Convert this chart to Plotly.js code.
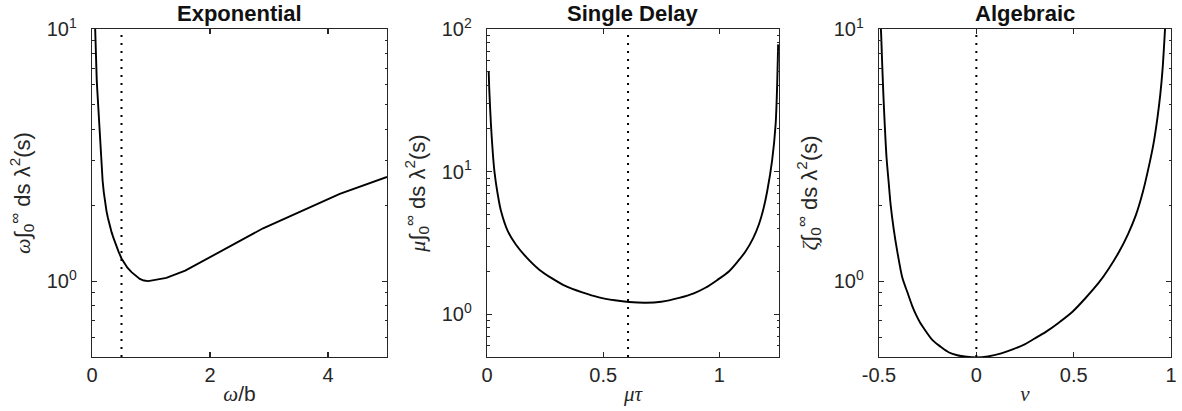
<!DOCTYPE html>
<html>
<head>
<meta charset="utf-8">
<script src="https://cdn.plot.ly/plotly-3.0.1.min.js"></script>
<style>html,body{margin:0;padding:0;background:#fff;}#chart{width:1182px;height:411px;}</style>
</head>
<body>
<div id="chart"></div>
<script>
// ---- data ----
const panelTitles = ["Exponential", "Single Delay", "Algebraic"];

const expX = [0.04, 0.05, 0.06, 0.07, 0.08, 0.09, 0.1, 0.107, 0.12, 0.13, 0.14, 0.152, 0.165, 0.18, 0.2, 0.22, 0.245, 0.27, 0.3, 0.333, 0.365, 0.4, 0.45, 0.5, 0.55, 0.6, 0.67, 0.74, 0.81, 0.88, 0.954, 1.26, 1.58, 2.9, 4.2, 5.0];
const expY = [12.8, 10.0, 8.4, 7.2, 6.3, 5.7, 5.2, 4.85, 4.2, 3.8, 3.45, 3.1, 2.8, 2.5, 2.25, 2.05, 1.9, 1.78, 1.66, 1.56, 1.48, 1.40, 1.31, 1.23, 1.175, 1.13, 1.085, 1.05, 1.02, 1.005, 1.0, 1.03, 1.10, 1.62, 2.22, 2.59];

const sdX = [0.0073, 0.01, 0.017, 0.025, 0.032, 0.045, 0.06, 0.09, 0.124, 0.17, 0.225, 0.28, 0.339, 0.41, 0.482, 0.55, 0.611, 0.684, 0.75, 0.827, 0.89, 0.94, 0.99, 1.042, 1.08, 1.113, 1.145, 1.17, 1.19, 1.206, 1.227, 1.242, 1.249, 1.253];
const sdY = [50, 37, 21.4, 13.5, 10, 7.1, 5.3, 3.8, 3.08, 2.5, 2.05, 1.78, 1.57, 1.42, 1.31, 1.25, 1.215, 1.20, 1.22, 1.30, 1.40, 1.53, 1.73, 2.0, 2.35, 2.76, 3.4, 4.25, 5.5, 7.3, 12, 21.4, 42, 78];

const alX = [-0.497, -0.49, -0.485, -0.478, -0.47, -0.461, -0.45, -0.44, -0.425, -0.406, -0.38, -0.355, -0.33, -0.31, -0.29, -0.269, -0.225, -0.183, -0.14, -0.098, -0.05, 0, 0.06, 0.128, 0.19, 0.248, 0.3, 0.357, 0.42, 0.494, 0.56, 0.631, 0.68, 0.734, 0.78, 0.82, 0.855, 0.888, 0.91, 0.93, 0.945, 0.957, 0.969, 0.975];
const alY = [11.5, 9.9, 7.8, 5.6, 4.1, 3.07, 2.45, 2.0, 1.62, 1.31, 1.03, 0.907, 0.80, 0.736, 0.687, 0.649, 0.583, 0.549, 0.521, 0.508, 0.501, 0.498, 0.503, 0.517, 0.537, 0.561, 0.592, 0.629, 0.681, 0.756, 0.855, 0.99, 1.12, 1.31, 1.54, 1.83, 2.25, 2.89, 3.5, 4.42, 5.5, 6.98, 9.9, 12];

const refLines = [0.5, 0.607, 0];          // dotted vertical markers
const xRanges = [[0, 5], [0, 1.2566], [-0.5, 1]];
const yRanges = [[0.5, 10], [0.5, 100], [0.5, 10]];
const xTickVals = [[0, 2, 4], [0, 0.5, 1], [-0.5, 0, 0.5, 1]];
const xTickText = [["0", "2", "4"], ["0", "0.5", "1"], ["-0.5", "0", "0.5", "1"]];
const yTickVals = [[1, 10], [1, 10, 100], [1, 10]];
const yTickText = [["10<sup>0</sup>", "10<sup>1</sup>"], ["10<sup>0</sup>", "10<sup>1</sup>", "10<sup>2</sup>"], ["10<sup>0</sup>", "10<sup>1</sup>"]];
const yMinor = [
  [0.5, 0.6, 0.7, 0.8, 0.9, 2, 3, 4, 5, 6, 7, 8, 9],
  [0.5, 0.6, 0.7, 0.8, 0.9, 2, 3, 4, 5, 6, 7, 8, 9, 20, 30, 40, 50, 60, 70, 80, 90],
  [0.5, 0.6, 0.7, 0.8, 0.9, 2, 3, 4, 5, 6, 7, 8, 9]
];
const lineShapes = ["linear", "spline", "spline"];
const serif = (s) => '<span style="font-family:\'Liberation Serif\',serif"><i>' + s + '</i></span>';
const xTitles = [serif("ω") + "/b", serif("μτ"), serif("ν")];
const yPrefix = ["ω", "μ", "ζ"];
const yTitles = yPrefix.map(p => serif(p) + "∫<sub>0</sub><sup>∞</sup> ds λ<sup>2</sup>(s)");

const xs = [expX, sdX, alX];
const ys = [expY, sdY, alY];

// ---- build figure ----
const axisColor = "#262626";
const fam = "'Liberation Sans', Arial, sans-serif";
const tickFont = {family: fam, size: 20, color: axisColor};
const W = 1079;
const domains = [[0, 295 / W], [395 / W, 687 / W], [787 / W, 1]];

const traces = [];
const layout = {
  width: 1182, height: 411,
  margin: {l: 92, r: 11, t: 29, b: 54},
  paper_bgcolor: "#fff", plot_bgcolor: "#fff",
  showlegend: false,
  font: tickFont,
  shapes: [], annotations: []
};

for (let i = 0; i < 3; i++) {
  const sfx = i === 0 ? "" : String(i + 1);
  traces.push({
    x: xs[i], y: ys[i], type: "scatter", mode: "lines",
    line: {color: "#000", width: 1.9, shape: lineShapes[i], smoothing: 0.8},
    xaxis: "x" + sfx, yaxis: "y" + sfx, hoverinfo: "skip"
  });
  layout["xaxis" + sfx] = {
    domain: domains[i], anchor: "y" + sfx,
    range: xRanges[i], showgrid: false, zeroline: false,
    showline: true, mirror: "ticks", linecolor: axisColor, linewidth: 1.3,
    ticks: "inside", ticklen: 5, tickwidth: 1.1, tickcolor: axisColor,
    tickmode: "array", tickvals: xTickVals[i], ticktext: xTickText[i],
    ticklabelstandoff: 0,
    tickfont: tickFont,
    title: {text: xTitles[i], font: {family: fam, size: 21, color: axisColor}, standoff: 1}
  };
  layout["yaxis" + sfx] = {
    domain: [0, 1], anchor: "x" + sfx, type: "log",
    range: yRanges[i].map(Math.log10), showgrid: false, zeroline: false,
    showline: true, mirror: "ticks", linecolor: axisColor, linewidth: 1.3,
    ticks: "inside", ticklen: 5, tickwidth: 1.1, tickcolor: axisColor,
    tickmode: "array", tickvals: yTickVals[i], ticktext: yTickText[i],
    ticklabelstandoff: 10,
    minor: {tickmode: "array", tickvals: yMinor[i], ticks: "inside", ticklen: 2.5, tickwidth: 1, tickcolor: axisColor, showgrid: false},
    tickfont: tickFont,
    title: {text: yTitles[i], font: {family: fam, size: 22, color: axisColor}, standoff: 10}
  };
  layout.shapes.push({
    type: "line", xref: "x" + sfx, yref: "y" + sfx + " domain",
    x0: refLines[i], x1: refLines[i], y0: 0, y1: 1,
    line: {color: "#000", width: 2, dash: "2px,6px"}
  });
  layout.annotations.push({
    text: "<b>" + panelTitles[i] + "</b>",
    xref: "paper", yref: "paper",
    x: (domains[i][0] + domains[i][1]) / 2, y: 1,
    xanchor: "center", yanchor: "bottom", yshift: 1,
    showarrow: false,
    font: {family: fam, size: 22, color: "#111"}
  });
}

Plotly.newPlot("chart", traces, layout, {staticPlot: true, displayModeBar: false});
</script>
</body>
</html>
